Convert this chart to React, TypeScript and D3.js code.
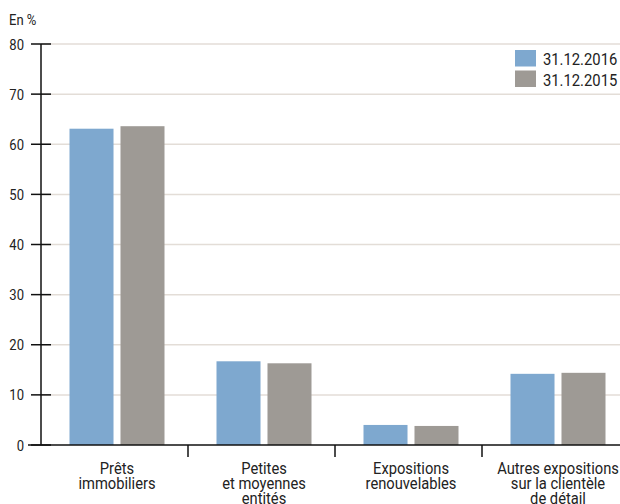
import React from 'react';
import * as d3 from 'd3';

const categories = [
  ['Prêts', 'immobiliers'],
  ['Petites', 'et moyennes', 'entités'],
  ['Expositions', 'renouvelables'],
  ['Autres expositions', 'sur la clientèle', 'de détail'],
];
const seriesNames = ['31.12.2016', '31.12.2015'];
const values2016 = [63.1, 16.7, 4.0, 14.2];
const values2015 = [63.6, 16.3, 3.8, 14.4];
const yTicks = [0, 10, 20, 30, 40, 50, 60, 70, 80];
const colors = ['#7ea8cf', '#9e9a95'];

const FONT = 'Roboto, sans-serif';

// text drawn narrower than Roboto's normal width (the original face is condensed)
const CText = ({ x, y, size, anchor = 'start', squeeze = 0.87, children }: any) => (
  <g transform={`translate(${x},${y}) scale(${squeeze},1)`}>
    <text x={0} y={0} fontSize={size} textAnchor={anchor} fill="#222">
      {children}
    </text>
  </g>
);

const App = () => {
  const width = 620;
  const height = 504;

  // y scale: 0 at the baseline, 80 at top gridline
  const y = d3.scaleLinear().domain([0, 80]).range([445, 44]);

  // one band per category, separators sit on the band edges
  const keys = categories.map((c, i) => String(i));
  const x = d3.scaleBand().domain(keys).range([41, 629]).padding(0);
  const inner = d3.scaleBand().domain(seriesNames).range([0, 95]).paddingInner(0.137).paddingOuter(0);
  const groupOffset = 28.5;

  const series = [values2016, values2015];

  return (
    <svg width={width} height={height} style={{ position: 'absolute', left: 0, top: 0 }} fontFamily={FONT}>
      {/* gridlines */}
      {yTicks.slice(1).map((t) => (
        <line key={'g' + t} x1={41} x2={620} y1={y(t)} y2={y(t)} stroke="#e3ddd7" strokeWidth={1.5} />
      ))}

      {/* bars */}
      {keys.map((k, i) =>
        seriesNames.map((s, j) => {
          const v = series[j][i];
          return (
            <rect
              key={k + s}
              x={(x(k) as number) + groupOffset + (inner(s) as number)}
              y={y(v)}
              width={inner.bandwidth()}
              height={y(0) - y(v)}
              fill={colors[j]}
            />
          );
        })
      )}

      {/* y axis */}
      <line x1={41} x2={41} y1={y(80)} y2={y(0)} stroke="#111" strokeWidth={1.5} />
      {yTicks.map((t) => (
        <g key={'t' + t}>
          <line x1={31} x2={51} y1={y(t)} y2={y(t)} stroke="#111" strokeWidth={1.5} />
          <CText x={24} y={y(t) + 5.5} size={15} anchor="end">
            {t}
          </CText>
        </g>
      ))}
      <CText x={9} y={25} size={15}>
        En %
      </CText>

      {/* x axis */}
      <line x1={28} x2={620} y1={y(0)} y2={y(0)} stroke="#111" strokeWidth={1.5} />
      {keys.slice(1).map((k) => (
        <line key={'s' + k} x1={x(k) as number} x2={x(k) as number} y1={y(0)} y2={y(0) + 12} stroke="#111" strokeWidth={1.5} />
      ))}
      {categories.map((lines, i) =>
        lines.map((ln, li) => (
          <CText
            key={'l' + i + li}
            x={(x(keys[i]) as number) + groupOffset + 47.5}
            y={474 + li * 14.8}
            size={16}
            squeeze={0.92}
            anchor="middle"
          >
            {ln}
          </CText>
        ))
      )}

      {/* legend */}
      {seriesNames.map((s, j) => (
        <g key={'lg' + s} transform={`translate(515, ${50 + j * 20.5})`}>
          <rect width={21} height={16.5} fill={colors[j]} />
          <CText x={28} y={15} size={17}>
            {s}
          </CText>
        </g>
      ))}
    </svg>
  );
};

export default App;
